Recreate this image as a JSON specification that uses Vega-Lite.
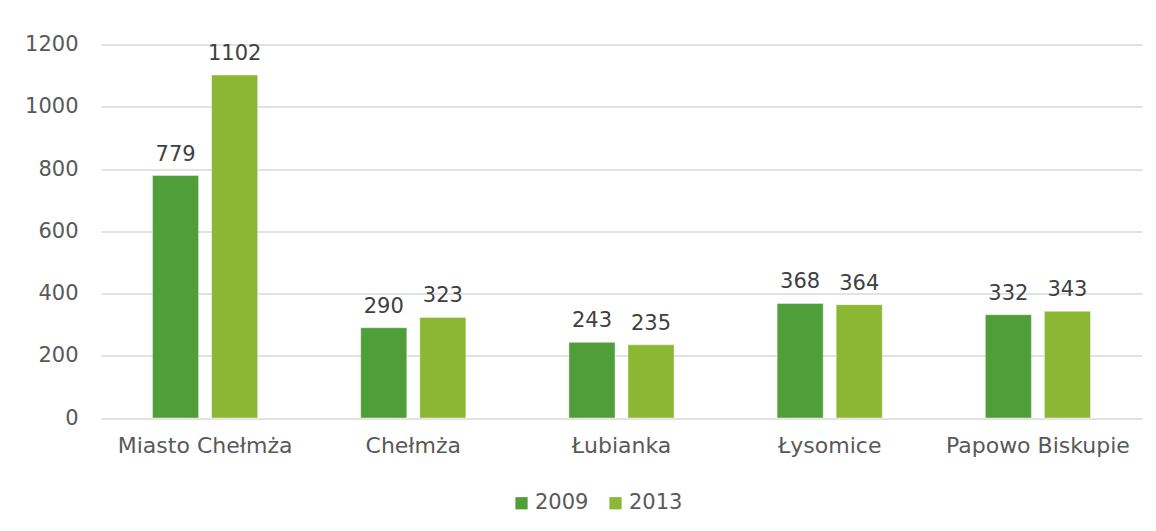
{
  "$schema": "https://vega.github.io/schema/vega-lite/v6.json",
  "width": 1041,
  "height": 373.5,
  "autosize": {"type": "none"},
  "padding": {"left": 101, "top": 44.5, "right": 14, "bottom": 113},
  "background": "white",
  "config": {"view": {"stroke": null}, "font": "DejaVu Sans"},
  "data": {
    "values": [
      {"gmina": "Miasto Chełmża", "rok": "2009", "wartosc": 779},
      {"gmina": "Miasto Chełmża", "rok": "2013", "wartosc": 1102},
      {"gmina": "Chełmża", "rok": "2009", "wartosc": 290},
      {"gmina": "Chełmża", "rok": "2013", "wartosc": 323},
      {"gmina": "Łubianka", "rok": "2009", "wartosc": 243},
      {"gmina": "Łubianka", "rok": "2013", "wartosc": 235},
      {"gmina": "Łysomice", "rok": "2009", "wartosc": 368},
      {"gmina": "Łysomice", "rok": "2013", "wartosc": 364},
      {"gmina": "Papowo Biskupie", "rok": "2009", "wartosc": 332},
      {"gmina": "Papowo Biskupie", "rok": "2013", "wartosc": 343}
    ]
  },
  "encoding": {
    "x": {
      "field": "gmina",
      "type": "nominal",
      "sort": ["Miasto Chełmża", "Chełmża", "Łubianka", "Łysomice", "Papowo Biskupie"],
      "scale": {"paddingInner": 0.495, "paddingOuter": 0.2475},
      "axis": {
        "title": null,
        "labelAngle": 0,
        "labelLimit": 400,
        "domain": false,
        "ticks": false,
        "labelPadding": 17,
        "labelFontSize": 22,
        "labelColor": "#595959",
        "labelFont": "DejaVu Sans"
      }
    },
    "xOffset": {
      "field": "rok",
      "type": "nominal",
      "scale": {"paddingInner": 0.22, "paddingOuter": 0}
    },
    "y": {
      "field": "wartosc",
      "type": "quantitative",
      "scale": {"domain": [0, 1200], "nice": false},
      "axis": {
        "title": null,
        "values": [0, 200, 400, 600, 800, 1000, 1200],
        "format": "d",
        "domain": false,
        "ticks": false,
        "labelPadding": 23,
        "labelFontSize": 21,
        "labelColor": "#595959",
        "labelFont": "DejaVu Sans",
        "gridColor": "#d9d9d9",
        "gridWidth": 1.5
      }
    }
  },
  "layer": [
    {
      "mark": {"type": "bar", "stroke": "#ffffff", "strokeOpacity": 0.4, "strokeWidth": 1},
      "encoding": {
        "color": {
          "field": "rok",
          "type": "nominal",
          "scale": {"domain": ["2009", "2013"], "range": ["#509E3A", "#8BB735"]},
          "legend": {
            "title": null,
            "orient": "none",
            "direction": "horizontal",
            "legendX": 410,
            "legendY": 448,
            "padding": 0,
            "symbolType": "square",
            "symbolSize": 150,
            "symbolStrokeWidth": 0,
            "symbolOpacity": 1,
            "labelFontSize": 21,
            "labelColor": "#595959",
            "labelFont": "DejaVu Sans",
            "labelOffset": 3,
            "columnPadding": 16
          }
        }
      }
    },
    {
      "mark": {"type": "text", "baseline": "bottom", "dy": -11, "fontSize": 21, "color": "#404040", "font": "DejaVu Sans"},
      "encoding": {"text": {"field": "wartosc", "type": "quantitative"}}
    }
  ]
}
